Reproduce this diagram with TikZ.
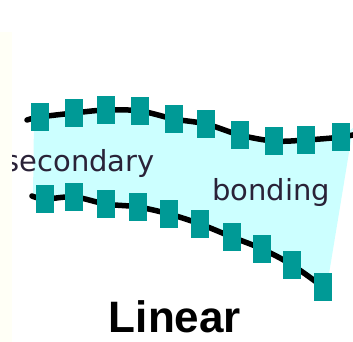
\documentclass[tikz,border=0pt]{standalone}
\usepackage{fontspec}
\setmainfont{Liberation Sans}
\newfontfamily\lblfont{DejaVu Sans}
\definecolor{teal1}{HTML}{009A96}
\definecolor{cyanfill}{HTML}{CCFFFF}
\definecolor{ivory1}{HTML}{FFFFF6}
\definecolor{txt}{HTML}{2A2238}
\tikzset{
  mono/.style={draw=none,fill=teal1,minimum width=18pt,minimum height=28pt,inner sep=0pt},
  chain/.style={line width=5.5pt,black,line cap=round},
  lbl/.style={text=txt,font=\lblfont\fontsize{29}{29}\selectfont,inner sep=0pt}
}
\begin{document}
\begin{tikzpicture}[x=1pt,y=-1pt]
\useasboundingbox (0,0) rectangle (353,342);
% top chain positions
\coordinate (tl) at (27,120);
\coordinate (tr) at (362,133);
\coordinate (t1) at (40,117);
\coordinate (t2) at (74,113);
\coordinate (t3) at (106,110);
\coordinate (t4) at (140,111);
\coordinate (t5) at (174,119);
\coordinate (t6) at (206,124);
\coordinate (t7) at (240,135);
\coordinate (t8) at (274,141);
\coordinate (t9) at (306,140);
\coordinate (t10) at (341,137);
% bottom chain positions
\coordinate (bl) at (32,196);
\coordinate (b1) at (45,199);
\coordinate (b2) at (74,197);
\coordinate (b3) at (106,204);
\coordinate (b4) at (138,207);
\coordinate (b5) at (169,214);
\coordinate (b6) at (200,224);
\coordinate (b7) at (232,237);
\coordinate (b8) at (262,249);
\coordinate (b9) at (292,265);
\coordinate (b10) at (323,287);
% cyan region
\fill[cyanfill] (34,120) -- (t1) -- (t2) -- (t3) -- (t4) -- (t5) -- (t6) -- (t7) -- (t8) -- (t9) -- (t10) -- (353,128)
  -- (328,280) -- (b10) -- (b9) -- (b8) -- (b7) -- (b6) -- (b5) -- (b4) -- (b3) -- (b2) -- (b1) -- (33,196) -- cycle;
% labels
\node[lbl,anchor=base east] (sec) at (155,171) {secondary};
\node[lbl,anchor=base west] (bond) at (212,200) {bonding};
\node[font=\bfseries\fontsize{44}{44}\selectfont,anchor=base,inner sep=0pt,text depth=0pt] (lin) at (175,332) {Linear};
% chains
\draw[chain] plot[smooth,tension=0.6] coordinates {(tl) (t1) (t2) (t3) (t4) (t5) (t6) (t7) (t8) (t9) (t10) (tr)};
\draw[chain] plot[smooth,tension=0.6] coordinates {(bl) (b1) (b2) (b3) (b4) (b5) (b6) (b7) (b8) (b9) (b10)};
\foreach \i in {1,...,10} {
  \node[mono] (tm\i) at (t\i) {};
  \node[mono] (bm\i) at (b\i) {};
}
% left ivory band
\fill[ivory1] (0,32) rectangle (12,342);
\end{tikzpicture}
\end{document}
